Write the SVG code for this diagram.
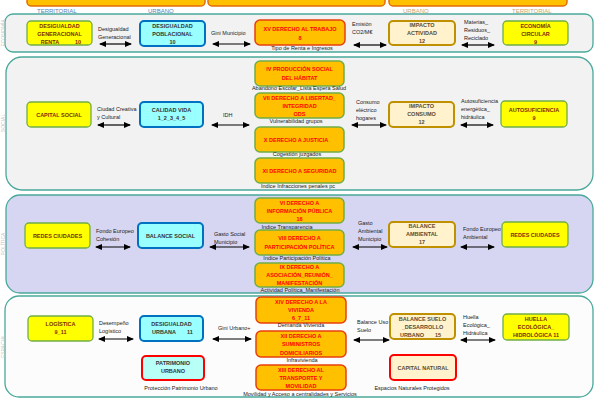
<svg xmlns="http://www.w3.org/2000/svg" width="600" height="400" viewBox="0 0 600 400">
<defs>
<marker id="ah" markerUnits="userSpaceOnUse" markerWidth="7" markerHeight="6" refX="6" refY="3" orient="auto-start-reverse"><path d="M0,0 L7,3 L0,6 z" fill="#000"/></marker>
<style>
text{font-family:"Liberation Sans",Arial,sans-serif;}
.band{stroke:#4aa89a;stroke-width:1.3;}
.b1{fill:#f2f2f2;}
.b3{fill:#d6d6f2;}
.b4{fill:#fcfcfc;}
.side{font-size:5px;fill:#c4c4c4;text-anchor:middle;}
.top{font-size:6px;}
.tl{fill:#5b80b8;}
.tt{fill:#c9a66b;}
.yel{fill:#ffff00;stroke:#70ad47;stroke-width:1.3;}
.cya{fill:#99ffff;stroke:#0070c0;stroke-width:2;}
.cre{fill:#fff2cc;stroke:#bf9000;stroke-width:2;}
.org{fill:#ffc000;stroke:#70ad47;stroke-width:1.5;}
.orr{fill:#ffc000;stroke:#e8400c;stroke-width:1.5;}
.pcy{fill:#b8fff8;stroke:#ff0000;stroke-width:2;}
.pcr{fill:#fff2cc;stroke:#ff0000;stroke-width:2;}
.nt{font-size:5.5px;font-weight:bold;text-anchor:middle;}
.ty{fill:#7b2c00;}
.tc{fill:#333;}
.tk{fill:#5a4a30;}
.tred{fill:#ff0000;}
.lb{font-size:5.5px;fill:#222;}
.lc{font-size:5.5px;fill:#222;text-anchor:middle;}
.arr{stroke:#000;stroke-width:1.2;fill:none;marker-start:url(#ah);marker-end:url(#ah);}
</style>
</defs>
<rect width="600" height="400" fill="#fff"/>

<!-- bands -->
<g id="bands">
<rect class="band b1" x="5" y="14" width="588" height="38" rx="8"/>
<rect class="band b1" x="6" y="57" width="587" height="133" rx="16"/>
<rect class="band b3" x="6" y="195" width="587" height="98" rx="14"/>
<rect class="band b4" x="5" y="296" width="588" height="101" rx="14"/>
<text class="side" transform="translate(5,33) rotate(-90)">ECONOMÍA</text>
<text class="side" transform="translate(5,123) rotate(-90)">SOCIAL</text>
<text class="side" transform="translate(5,244) rotate(-90)">POLÍTICA</text>
<text class="side" transform="translate(5,346) rotate(-90)">ESPACIAL</text>
</g>

<!-- top boxes and column labels -->
<g id="top">
<rect x="27" y="-20" width="178" height="26" rx="4" fill="#ffc000" stroke="#e36c09" stroke-width="1.5"/>
<rect x="208" y="-20" width="177" height="26" rx="4" fill="#ffc000" stroke="#e36c09" stroke-width="1.5"/>
<rect x="389" y="-20" width="178" height="26" rx="4" fill="#ffc000" stroke="#e36c09" stroke-width="1.5"/>
<text class="top tl" x="37" y="12.5">TERRITORIAL</text>
<text class="top tl" x="148" y="12.5">URBANO</text>
<text class="top tt" x="403" y="12.5">URBANO</text>
<text class="top tt" x="512" y="12.5">TERRITORIAL</text>
</g>

<!-- connectors -->
<g id="connectors">
<line class="arr" x1="100" y1="44" x2="131" y2="44"/>
<line class="arr" x1="213" y1="44" x2="250" y2="44"/>
<line class="arr" x1="354" y1="45" x2="386" y2="45"/>
<line class="arr" x1="462" y1="45" x2="494" y2="45"/>
<line class="arr" x1="98" y1="125" x2="130" y2="125"/>
<line class="arr" x1="212" y1="125" x2="249" y2="125"/>
<line class="arr" x1="352" y1="125" x2="386" y2="125"/>
<line class="arr" x1="461" y1="125" x2="493" y2="125"/>
<line class="arr" x1="96" y1="247" x2="130" y2="247"/>
<line class="arr" x1="210" y1="247" x2="249" y2="247"/>
<line class="arr" x1="353" y1="247" x2="387" y2="247"/>
<line class="arr" x1="461" y1="247" x2="494" y2="247"/>
<line class="arr" x1="99" y1="339" x2="133" y2="339"/>
<line class="arr" x1="213" y1="339" x2="251" y2="339"/>
<line class="arr" x1="354" y1="340" x2="389" y2="340"/>
<line class="arr" x1="461" y1="340" x2="495" y2="340"/>
<text class="lb" x="98" y="31">Desigualdad</text><text class="lb" x="98" y="39">Generacional</text>
<text class="lb" x="211" y="35">Gini Municipio</text>
<text class="lb" x="352" y="26">Emisión</text><text class="lb" x="352" y="34">CO2/M€</text>
<text class="lb" x="464" y="24">Materias_</text><text class="lb" x="464" y="32">Residuos_</text><text class="lb" x="464" y="40">Reciclado</text>
<text class="lb" x="97" y="111">Ciudad Creativa</text><text class="lb" x="97" y="119">y Cultural</text>
<text class="lb" x="223" y="117">IDH</text>
<text class="lb" x="356" y="104">Consumo</text><text class="lb" x="356" y="112">eléctrico</text><text class="lb" x="356" y="120">hogares</text>
<text class="lb" x="461" y="103">Autosuficiencia</text><text class="lb" x="461" y="111">energética_</text><text class="lb" x="461" y="119">hidráulica</text>
<text class="lb" x="96" y="233">Fondo Europeo</text><text class="lb" x="96" y="241">Cohesión</text>
<text class="lb" x="214" y="236">Gasto Social</text><text class="lb" x="214" y="244">Municipio</text>
<text class="lb" x="358" y="225">Gasto</text><text class="lb" x="358" y="233">Ambiental</text><text class="lb" x="358" y="241">Municipio</text>
<text class="lb" x="463" y="231">Fondo Europeo</text><text class="lb" x="463" y="239">Ambiental</text>
<text class="lb" x="99" y="325">Desempeño</text><text class="lb" x="99" y="333">Logístico</text>
<text class="lb" x="218" y="330">Gini Urbano+</text>
<text class="lb" x="357" y="324">Balance Uso</text><text class="lb" x="357" y="332">Suelo</text>
<text class="lb" x="463" y="319">Huella</text><text class="lb" x="463" y="327">Ecológica_</text><text class="lb" x="463" y="335">Hidráulica</text>
</g>

<!-- Row 1 -->
<g id="n_dgr"><rect class="yel" x="27" y="21" width="65" height="24" rx="4"/>
<text class="nt ty" x="59.5" y="28">DESIGUALDAD</text><text class="nt ty" x="59.5" y="36">GENERACIONAL</text><text class="nt ty" x="50" y="44">RENTA</text><text class="nt ty" x="78" y="44">10</text></g>
<g id="n_dp"><rect class="cya" x="140" y="21" width="65" height="25" rx="4"/>
<text class="nt tc" x="172.5" y="27.5">DESIGUALDAD</text><text class="nt tc" x="172.5" y="35.5">POBLACIONAL</text><text class="nt tc" x="172.5" y="43.5">10</text></g>
<g id="n_xv"><rect class="orr" x="255" y="20" width="90" height="25" rx="5"/>
<text class="nt tred" x="300" y="31">XV DERECHO AL TRABAJO</text><text class="nt tred" x="300" y="40">8</text>
<text class="lc" x="302" y="50">Tipo de Renta e Ingresos</text></g>
<g id="n_ia"><rect class="cre" x="389" y="21" width="66" height="24" rx="4"/>
<text class="nt tk" x="422" y="27">IMPACTO</text><text class="nt tk" x="422" y="35">ACTIVIDAD</text><text class="nt tk" x="422" y="43">12</text></g>
<g id="n_ec"><rect class="yel" x="503" y="21" width="65" height="24" rx="4"/>
<text class="nt ty" x="535.5" y="27.5">ECONOMÍA</text><text class="nt ty" x="535.5" y="35.5">CIRCULAR</text><text class="nt ty" x="535.5" y="43.5">9</text></g>

<!-- Row 2 -->
<g id="n_cs"><rect class="yel" x="27" y="102" width="64" height="25" rx="4"/>
<text class="nt ty" x="59" y="116.5">CAPITAL SOCIAL</text></g>
<g id="n_cv"><rect class="cya" x="140" y="102" width="63" height="25" rx="4"/>
<text class="nt tc" x="171.5" y="111.5">CALIDAD VIDA</text><text class="nt tc" x="171.5" y="119.5">1_2_3_4_5</text></g>
<g id="n_iv"><rect class="org" x="255" y="61" width="89" height="25" rx="5"/>
<text class="nt tred" x="299.5" y="71">IV PRODUCCIÓN SOCIAL</text><text class="nt tred" x="299.5" y="79.5">DEL HÁBITAT</text>
<text class="lc" x="299" y="90">Abandono Escolar_Lista Espera Salud</text></g>
<g id="n_vii"><rect class="org" x="255" y="93" width="89" height="25" rx="5"/>
<text class="nt tred" x="299.5" y="99.5">VII  DERECHO A LIBERTAD_</text><text class="nt tred" x="299.5" y="107.5">INTEGRIDAD</text><text class="nt tred" x="299.5" y="115.5">ODS</text>
<text class="lc" x="296" y="122.5">Vulnerabilidad grupos</text></g>
<g id="n_x"><rect class="org" x="255" y="127" width="89" height="25" rx="5"/>
<text class="nt tred" x="296" y="141.5">X DERECHO A JUSTICIA</text>
<text class="lc" x="297" y="156">Cogestión juzgados</text></g>
<g id="n_xi"><rect class="org" x="255" y="158" width="89" height="25" rx="5"/>
<text class="nt tred" x="299.5" y="172.5">XI DERECHO A SEGURIDAD</text>
<text class="lc" x="298" y="188">Indice Infracciones penales pc</text></g>
<g id="n_ic"><rect class="cre" x="389" y="102" width="65" height="25" rx="4"/>
<text class="nt tk" x="421.5" y="107.5">IMPACTO</text><text class="nt tk" x="421.5" y="115.5">CONSUMO</text><text class="nt tk" x="421.5" y="123.5">12</text></g>
<g id="n_as"><rect class="yel" x="501" y="101" width="66" height="26" rx="4"/>
<text class="nt ty" x="534" y="111.5">AUTOSUFICIENCIA</text><text class="nt ty" x="534" y="119.5">9</text></g>

<!-- Row 3 -->
<g id="n_rc1"><rect class="yel" x="25" y="223" width="65" height="25" rx="4"/>
<text class="nt ty" x="57.5" y="237.5">REDES CIUDADES</text></g>
<g id="n_bs"><rect class="cya" x="138" y="223" width="65" height="25" rx="4"/>
<text class="nt tc" x="170.5" y="237.5">BALANCE SOCIAL</text></g>
<g id="n_vi"><rect class="org" x="255" y="198" width="89" height="25" rx="5"/>
<text class="nt tred" x="299.5" y="204.5">VI DERECHO A</text><text class="nt tred" x="299.5" y="212.5">INFORMACIÓN PÚBLICA</text><text class="nt tred" x="299.5" y="220.5">16</text>
<text class="lc" x="287" y="228.5">Indice Transparencia</text></g>
<g id="n_viii"><rect class="org" x="255" y="230" width="89" height="25" rx="5"/>
<text class="nt tred" x="299.5" y="240">VIII DERECHO A</text><text class="nt tred" x="299.5" y="248.5">PARTICIPACIÓN POLÍTICA</text>
<text class="lc" x="297" y="260">Indice Participación Política</text></g>
<g id="n_ix"><rect class="org" x="255" y="263" width="89" height="24" rx="5"/>
<text class="nt tred" x="299.5" y="269">IX DERECHO A</text><text class="nt tred" x="299.5" y="277">ASOCIACIÓN_REUNIÓN_</text><text class="nt tred" x="299.5" y="285">MANIFESTACIÓN</text>
<text class="lc" x="300" y="291.5">Actividad Política_Manifestación</text></g>
<g id="n_ba"><rect class="cre" x="389" y="222" width="66" height="25" rx="4"/>
<text class="nt tk" x="422" y="227.5">BALANCE</text><text class="nt tk" x="422" y="235.5">AMBIENTAL</text><text class="nt tk" x="422" y="244">17</text></g>
<g id="n_rc2"><rect class="yel" x="502" y="222" width="66" height="25" rx="4"/>
<text class="nt ty" x="535" y="236.5">REDES CIUDADES</text></g>

<!-- Row 4 -->
<g id="n_lg"><rect class="yel" x="28" y="316" width="65" height="25" rx="4"/>
<text class="nt ty" x="60.5" y="325.5">LOGÍSTICA</text><text class="nt ty" x="60.5" y="333.5">9_11</text></g>
<g id="n_du"><rect class="cya" x="140" y="316" width="63" height="25" rx="4"/>
<text class="nt tc" x="171.5" y="325.5">DESIGUALDAD</text><text class="nt tc" x="164" y="334">URBANA</text><text class="nt tc" x="190" y="334">11</text></g>
<g id="n_pu"><rect class="pcy" x="142" y="356" width="62" height="24" rx="4"/>
<text class="nt tc" x="173" y="364.5">PATRIMONIO</text><text class="nt tc" x="173" y="372.5">URBANO</text>
<text class="lc" x="181" y="390">Protección Patrimonio Urbano</text></g>
<g id="n_xiv"><rect class="orr" x="256" y="297" width="90" height="26" rx="5"/>
<text class="nt tred" x="301" y="303.5">XIV DERECHO A LA</text><text class="nt tred" x="301" y="311.5">VIVIENDA</text><text class="nt tred" x="301" y="319.5">6_7_11</text>
<text class="lc" x="301" y="327">Demanda Vivienda</text></g>
<g id="n_xii"><rect class="orr" x="256" y="331" width="90" height="26" rx="5"/>
<text class="nt tred" x="301" y="337.5">XII DERECHO A</text><text class="nt tred" x="301" y="346">SUMINISTROS</text><text class="nt tred" x="301" y="354.5">DOMICILIARIOS</text>
<text class="lc" x="302" y="362">Infravivienda</text></g>
<g id="n_xiii"><rect class="orr" x="256" y="365" width="90" height="25" rx="5"/>
<text class="nt tred" x="301" y="371.5">XIII DERECHO AL</text><text class="nt tred" x="301" y="379.5">TRANSPORTE Y</text><text class="nt tred" x="301" y="388">MOVILIDAD</text>
<text class="lc" x="300" y="396">Movilidad y Acceso a centralidades y Servicios</text></g>
<g id="n_bsdu"><rect class="cre" x="390" y="314" width="65" height="25" rx="4"/>
<text class="nt tk" x="422.5" y="320.5">BALANCE SUELO</text><text class="nt tk" x="422.5" y="328.5">_DESARROLLO</text><text class="nt tk" x="412" y="336.5">URBANO</text><text class="nt tk" x="438" y="336.5">15</text></g>
<g id="n_cn"><rect class="pcr" x="390" y="355" width="66" height="25" rx="4"/>
<text class="nt tk" x="423" y="369.5">CAPITAL NATURAL</text>
<text class="lc" x="412" y="390">Espacios Naturales Protegidos</text></g>
<g id="n_he"><rect class="yel" x="503" y="314" width="66" height="26" rx="4"/>
<text class="nt ty" x="536" y="320.5">HUELLA</text><text class="nt ty" x="536" y="328.5">ECOLÓGICA_</text><text class="nt ty" x="536" y="337">HIDROLÓGICA  11</text></g>
</svg>
